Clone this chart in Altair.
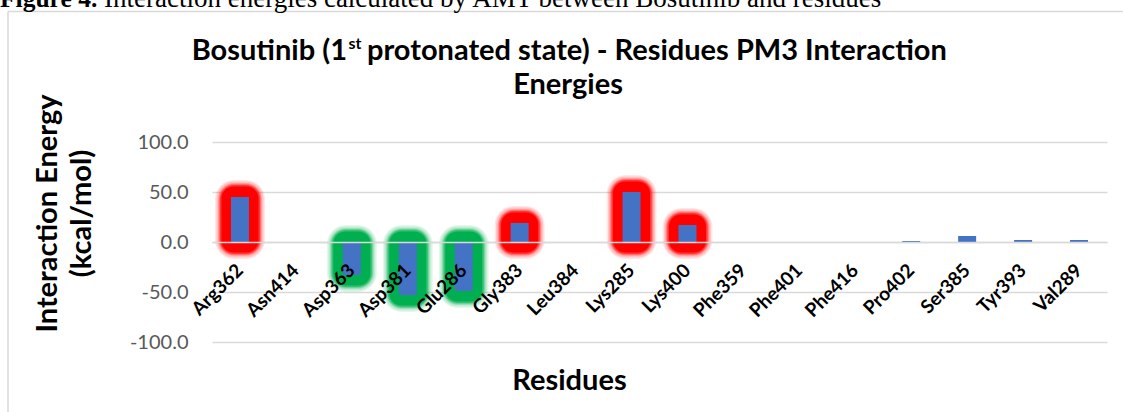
import altair as alt
import pandas as pd

residues = ["Arg362", "Asn414", "Asp363", "Asp381", "Glu286", "Gly383", "Leu384", "Lys285",
            "Lys400", "Phe359", "Phe401", "Phe416", "Pro402", "Ser385", "Tyr393", "Val289"]
energies = [45.0, 0.0, -33.0, -53.0, -49.0, 19.0, 0.0, 50.0,
            17.0, 0.0, 0.0, 0.0, 1.0, 6.0, 2.0, 2.0]
repulsive = ["Arg362", "Gly383", "Lys285", "Lys400"]
attractive = ["Asp363", "Asp381", "Glu286"]
y_ticks = [-100, -50, 0, 50, 100]

df = pd.DataFrame({"residue": residues, "energy": energies})
hl = df[df["residue"].isin(repulsive + attractive)].copy()
hl["kind"] = ["repulsive" if r in repulsive else "attractive" for r in hl["residue"]]

FONT = "Lato"

xenc = alt.X(
    "residue:N", sort=residues,
    scale=alt.Scale(domain=residues, paddingInner=0, paddingOuter=0),
    axis=alt.Axis(
        title="Residues", titleFont=FONT, titleFontSize=29, titleFontWeight="bold",
        titleColor="black", titleX=357, titleY=147, titleBaseline="alphabetic",
        titleAlign="center",
        labelAngle=-45, labelAlign="right", labelBaseline="middle", labelFont=FONT,
        labelFontWeight="bold", labelFontSize=19, labelColor="black", labelPadding=25,
        labelOffset=0, labelOverlap=False, ticks=False, domain=True,
        domainColor="#d9d9d9", domainWidth=1.5, offset=-100, zindex=1, grid=False,
    ),
)
yscale = alt.Scale(domain=[-100, 100], nice=False, zero=False)
yaxis = alt.Axis(
    values=y_ticks, labelExpr="replace(format(datum.value, '.1f'), '\u2212', '-')",
    labelFont=FONT, labelFontSize=20, labelColor="#595959", labelPadding=24,
    ticks=False, domain=False, gridColor="#d9d9d9", gridWidth=1.5,
    title=["Interaction Energy", "(kcal/mol)"], titleFont=FONT, titleFontSize=29,
    titleFontWeight="bold", titleColor="black", titleAngle=-90, titleX=-156, titleY=71,
    titleBaseline="alphabetic", titleAlign="center", titleLineHeight=34,
)


def glow(size, pad, opacity, radius):
    return alt.Chart(hl).transform_calculate(
        top=f"max(datum.energy, 0) + {pad}", bot=f"min(datum.energy, 0) - {pad}"
    ).mark_bar(size=size, opacity=opacity, cornerRadius=radius).encode(
        x=xenc,
        y=alt.Y("top:Q", scale=yscale, axis=yaxis),
        y2="bot:Q",
        color=alt.Color("kind:N", scale=alt.Scale(domain=["repulsive", "attractive"],
                                                   range=["#FF0000", "#00B050"]), legend=None),
    )


glows = [glow(50, 17, 0.1, 19), glow(47, 15.5, 0.15, 17), glow(44, 14, 0.2, 16),
         glow(42, 13, 0.3, 15), glow(40, 12, 0.5, 14), glow(37, 10.5, 1.0, 12)]

bars = alt.Chart(df).mark_bar(size=18, color="#4472C4").encode(
    x=xenc, y=alt.Y("energy:Q", scale=yscale, axis=yaxis), y2=alt.datum(0)
)

one = pd.DataFrame({"a": [0]})


def txt(text, x, y, size, weight="bold", align="left", font=FONT, color="black"):
    return alt.Chart(one).mark_text(
        text=text, font=font, fontSize=size, fontWeight=weight, align=align,
        baseline="alphabetic", color=color
    ).encode(x=alt.value(x), y=alt.value(y))


title_a = txt("Bosutinib (1", 135, -82, 29, align="right")
title_sup = txt("st", 136.5, -93, 16)
title_c = txt("protonated state) - Residues PM3 Interaction", 155, -82, 29)
title_2 = txt("Energies", 356, -48, 29, align="center")
cap_a = txt("Figure 4.", -212, -135, 25.5, font="Liberation Serif")
cap_b = txt("Interaction energies calculated by AMT between Bosutinib and residues",
            -108, -135, 27, weight="normal", font="Liberation Serif")

border_top = alt.Chart(one).mark_rule(color="#d9d9d9", strokeWidth=1.5).encode(
    x=alt.value(-204), x2=alt.value(911), y=alt.value(-130.5))
border_left = alt.Chart(one).mark_rule(color="#d9d9d9", strokeWidth=1.5).encode(
    x=alt.value(-204), y=alt.value(-130.5), y2=alt.value(270))

chart = alt.layer(
    border_top, border_left,
    *glows,
    bars,
    title_a, title_sup, title_c, title_2, cap_a, cap_b,
).properties(
    width=895, height=200,
    padding={"left": 212, "top": 142, "right": 16, "bottom": 70},
    autosize=alt.AutoSizeParams(type="none"),
    background="white",
).configure_view(stroke=None)

chart.save("out.html", embed_options={"renderer": "svg", "actions": False})
